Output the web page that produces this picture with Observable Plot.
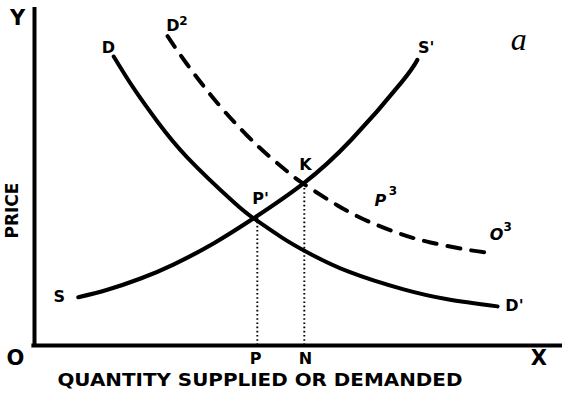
<!DOCTYPE html>
<html>
<head>
<meta charset="utf-8">
<script src="https://cdn.jsdelivr.net/npm/d3@7"></script>
<script src="https://cdn.jsdelivr.net/npm/@observablehq/plot@0.6"></script>
<style>
  html, body { margin: 0; padding: 0; background: #fff; }
  svg { display: block; }
</style>
</head>
<body>
<div id="chart"></div>
<script>
// Demand curve D -> D'
const demandQ = [15.0, 18.8, 23.3, 29.0, 37.7, 41.5, 46.8, 51.9, 59.5, 69.9, 78.2, 87.7];
const demandP = [85.0, 75.6, 65.8, 55.2, 42.2, 37.4, 31.8, 27.2, 21.7, 16.5, 13.6, 11.5];
// Supply curve S -> S'
const supplyQ = [8.3, 13.8, 20.1, 26.3, 33.9, 41.5, 50.9, 60.0, 69.5, 72.5];
const supplyP = [14.2, 16.4, 19.7, 23.8, 30.0, 37.4, 47.6, 60.5, 77.4, 84.0];
// Shifted demand curve D2 -> D3 (dashed)
const demand2Q = [25.2, 29.0, 34.7, 40.3, 44.7, 48.5, 50.9, 57.4, 63.1, 68.8, 75.0, 82.6, 86.0];
const demand2P = [91.0, 82.5, 71.2, 61.7, 55.3, 50.4, 47.6, 41.2, 36.6, 33.1, 30.3, 28.0, 27.3];
// Equilibria: P' (original) and K (after shift)
const equilQ = [42.2, 51.1];
const equilP = [37.4, 47.6];

// Curve labels (inside plot)
const curveLabels = ["D", "D", "S'", "K", "P'", "D'", "S"];
const curveLabelQ = [14.0, 26.2, 74.2, 51.3, 42.8, 90.9, 4.7];
const curveLabelP = [87.6, 94.1, 87.6, 53.2, 43.2, 11.8, 14.4];
// Hand-drawn labels on the dashed curve
const handLabels = ["P", "O"];
const handLabelQ = [65.5, 87.5];
const handLabelP = [42.6, 32.4];
// Superscripts
const supText = ["2", "3", "3"];
const supQ = [28.2, 67.9, 89.6];
const supP = [95.3, 45.3, 34.7];
// Axis letters
const axisLetters = ["Y", "O", "X"];
const axisLetterQ = [-3.2, -3.6, 95.5];
const axisLetterP = [96.2, -3.8, -3.8];
// Quantity marks on the x axis
const qMarks = ["P", "N"];
const qMarkQ = [41.9, 51.3];
const xTitle = "QUANTITY SUPPLIED OR DEMANDED";
const yTitle = "PRICE";
const panelTag = "a";

const pts = (qs, ps) => qs.map((q, i) => ({q, p: ps[i]}));
const lbl = (ts, qs, ps) => ts.map((t, i) => ({t, q: qs[i], p: ps[i]}));

const font = "DejaVu Sans";

const chart = Plot.plot({
  width: 562,
  height: 396,
  marginLeft: 34,
  marginRight: 0,
  marginTop: 5,
  marginBottom: 51,
  x: {domain: [0, 100], axis: null},
  y: {domain: [0, 100], axis: null},
  style: {background: "#fff", color: "#000"},
  marks: [
    Plot.ruleX([0], {y1: -0.3, y2: 99.4, stroke: "#000", strokeWidth: 4}),
    Plot.ruleY([0], {x1: -0.5, x2: 100, stroke: "#000", strokeWidth: 4}),
    Plot.ruleX(pts(equilQ, equilP), {x: "q", y1: 0, y2: "p", stroke: "#000", strokeWidth: 1.9, strokeDasharray: "1.6,2.6"}),
    Plot.line(pts(demandQ, demandP), {x: "q", y: "p", curve: "natural", stroke: "#000", strokeWidth: 4, strokeLinecap: "round"}),
    Plot.line(pts(supplyQ, supplyP), {x: "q", y: "p", curve: "natural", stroke: "#000", strokeWidth: 4.2, strokeLinecap: "round"}),
    Plot.line(pts(demand2Q, demand2P), {x: "q", y: "p", curve: "natural", stroke: "#000", strokeWidth: 4, strokeLinecap: "round", strokeDasharray: "13,11"}),
    Plot.text(lbl(curveLabels, curveLabelQ, curveLabelP), {x: "q", y: "p", text: "t", fontFamily: font, fontWeight: "bold", fontSize: 16, fill: "#000"}),
    Plot.text(lbl(handLabels, handLabelQ, handLabelP), {x: "q", y: "p", text: "t", fontFamily: font, fontStyle: "italic", fontWeight: "bold", fontSize: 16, fill: "#000"}),
    Plot.text(lbl(supText, supQ, supP), {x: "q", y: "p", text: "t", fontFamily: font, fontWeight: "bold", fontSize: 12, fill: "#000"}),
    Plot.text(lbl(axisLetters, axisLetterQ, axisLetterP), {x: "q", y: "p", text: "t", fontFamily: font, fontWeight: "bold", fontSize: 21, fill: "#000"}),
    Plot.text(lbl(qMarks, qMarkQ, qMarkQ.map(() => -3.8)), {x: "q", y: "p", text: "t", fontFamily: font, fontWeight: "bold", fontSize: 16, fill: "#000"}),
    Plot.text([xTitle], {x: 42.7, y: -10.3, text: d => d, fontFamily: font, fontWeight: "bold", fontSize: 18, fill: "#000"}),
    Plot.text([yTitle], {x: -4.2, y: 39.7, text: d => d, rotate: -90, fontFamily: font, fontWeight: "bold", fontSize: 17, fill: "#000"}),
    Plot.text([panelTag], {x: 91.7, y: 90.0, text: d => d, fontFamily: "Liberation Serif", fontStyle: "italic", fontSize: 32, fill: "#000"})
  ]
});

// stretch the x title to the width it has in the reference
d3.select(chart).selectAll("text").each(function() {
  if (this.textContent === xTitle) {
    this.setAttribute("textLength", 405);
    this.setAttribute("lengthAdjust", "spacingAndGlyphs");
  }
});

document.getElementById("chart").appendChild(chart);
</script>
</body>
</html>
